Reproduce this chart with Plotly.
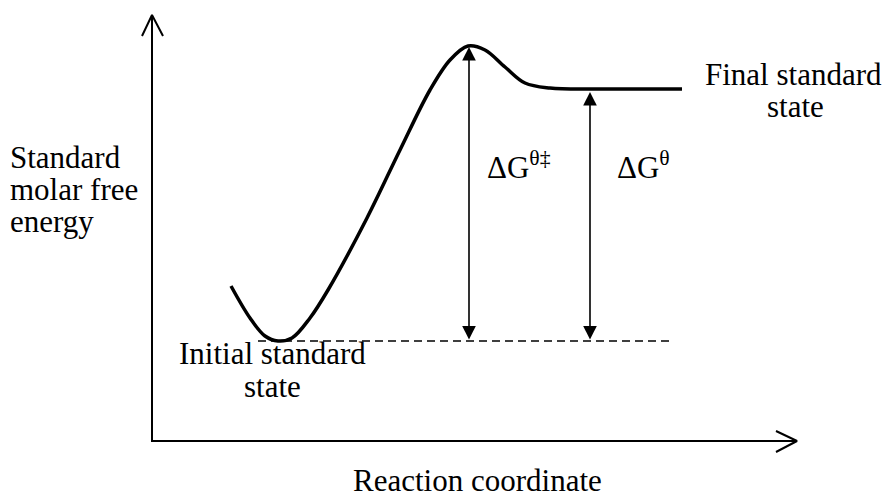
import plotly.graph_objects as go

# Reaction coordinate (diagram units, origin at the axes corner)
curve_x = [79, 98, 113, 126, 140, 158, 176, 215, 248, 278, 298, 316, 333, 353, 373,
           398, 448, 530]
# Standard molar free energy along the curve
curve_y = [155, 123, 105, 100, 103, 123, 151, 223, 291, 351, 381, 395, 391, 374, 358,
           353, 352, 352]

initial_level = 100
final_level = 352
peak_x = 317
peak_level = 394
dg_x = 438
dg_top = 349
dash_x = [106, 518]
axis_x_end = 645
axis_y_end = 426

FONT = "Liberation Serif"
FS = 31

fig = go.Figure()

# axes
fig.add_trace(go.Scatter(x=[0, 0, axis_x_end], y=[axis_y_end, 0, 0], mode="lines",
                         line=dict(color="black", width=2), hoverinfo="skip"))
# axis chevrons
fig.add_trace(go.Scatter(x=[-10, 0, 11], y=[axis_y_end - 21, axis_y_end, axis_y_end - 21],
                         mode="lines", line=dict(color="black", width=2), hoverinfo="skip"))
fig.add_trace(go.Scatter(x=[axis_x_end - 21, axis_x_end, axis_x_end - 21], y=[10, 0, -11],
                         mode="lines", line=dict(color="black", width=2), hoverinfo="skip"))

# energy curve
fig.add_trace(go.Scatter(x=curve_x, y=curve_y, mode="lines",
                         line=dict(color="black", width=3.5, shape="spline", smoothing=1.0),
                         hoverinfo="skip"))

# dashed initial level
fig.add_trace(go.Scatter(x=dash_x, y=[initial_level, initial_level], mode="lines",
                         line=dict(color="black", width=1.5, dash="8px,5px"), hoverinfo="skip"))

# double-headed arrows
for ax_x, top in [(peak_x, peak_level), (dg_x, dg_top)]:
    fig.add_annotation(x=ax_x, y=top, ax=ax_x, ay=initial_level, xref="x", yref="y",
                       axref="x", ayref="y", text="", showarrow=True,
                       arrowhead=2, startarrowhead=2, arrowside="end+start",
                       arrowsize=1.7, startarrowsize=1.7, arrowwidth=1.6, arrowcolor="black",
                       standoff=0, startstandoff=0)

def label(x, y, text, xanchor="center", xref="x", xshift=0):
    fig.add_annotation(x=x, y=y, xref=xref, yref="y", text=text, showarrow=False,
                       xanchor=xanchor, yanchor="middle", xshift=xshift,
                       font=dict(family=FONT, size=FS, color="black"))

# y-axis title lines (left edge of page)
label(0, 284, "Standard", xanchor="left", xref="paper")
label(0, 252, "molar free", xanchor="left", xref="paper")
label(0, 220, "energy", xanchor="left", xref="paper")
label(120, 88, "Initial standard")
label(120, 55, "state")
label(641, 367, "Final standard")
label(643, 335, "state")
label(325, -39, "Reaction coordinate")
label(333, 276, "ΔG<sup>θ‡</sup>", xanchor="left")
label(463, 276, "ΔG<sup>θ</sup>", xanchor="left")

# the page body adds an 8px offset, so the figure covers page pixels 8..891 / 8..497
fig.update_layout(
    width=883, height=489, margin=dict(l=0, r=0, t=0, b=0),
    paper_bgcolor="white", plot_bgcolor="white", showlegend=False,
    xaxis=dict(range=[-144, 739], visible=False, fixedrange=True),
    yaxis=dict(range=[-56, 433], visible=False, fixedrange=True),
)

fig.write_html("out.html")
